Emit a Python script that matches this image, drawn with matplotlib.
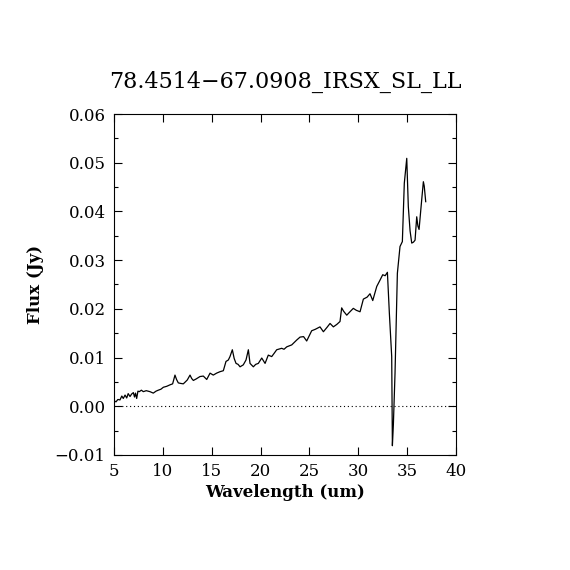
import matplotlib
matplotlib.use('Agg')
import matplotlib.pyplot as plt
from matplotlib.ticker import MultipleLocator

wave = [5.05, 5.2, 5.4, 5.61, 5.8, 5.95, 6.13, 6.3, 6.45, 6.64, 6.8, 6.98, 7.1, 7.2,
        7.32, 7.45, 7.59, 7.8, 8.0, 8.3, 8.68, 9.02, 9.3, 9.53, 9.8, 10.05, 10.4,
        10.73, 11.0, 11.24, 11.4, 11.58, 11.8, 12.09, 12.3, 12.5, 12.78, 12.95,
        13.12, 13.4, 13.8, 14.14, 14.49, 14.83, 15.16, 15.5, 15.85, 16.19, 16.46,
        16.7, 16.87, 17.11, 17.3, 17.49, 17.7, 17.9, 18.23, 18.51, 18.75, 18.92,
        19.26, 19.5, 19.77, 20.12, 20.46, 20.79, 21.14, 21.4, 21.65, 22.16, 22.4,
        22.68, 23.19, 23.7, 24.04, 24.4, 24.72, 25.23, 25.6, 26.08, 26.43, 26.8,
        27.11, 27.45, 27.8, 28.13, 28.3, 28.5, 28.82, 29.1, 29.49, 29.8, 30.18,
        30.52, 30.9, 31.2, 31.48, 31.89, 32.2, 32.5, 32.75, 32.98, 33.18, 33.42,
        33.49, 33.59, 33.76, 34.0, 34.27, 34.51, 34.71, 34.96, 35.12, 35.3, 35.47,
        35.65, 35.81, 35.98, 36.1, 36.22, 36.49, 36.66, 36.75, 36.9]
flux = [0.0011, 0.0009, 0.0014, 0.0013, 0.0021, 0.0016, 0.0023, 0.0017, 0.0026,
        0.0020, 0.0025, 0.0028, 0.0019, 0.0027, 0.0016, 0.0031, 0.0030, 0.0033,
        0.0030, 0.0032, 0.0030, 0.0027, 0.0031, 0.0033, 0.0035, 0.0039, 0.0041,
        0.0044, 0.0046, 0.0064, 0.0055, 0.0048, 0.0047, 0.0046, 0.0050, 0.0054,
        0.0064, 0.0057, 0.0053, 0.0056, 0.0061, 0.0062, 0.0055, 0.0068, 0.0064,
        0.0068, 0.0071, 0.0073, 0.0092, 0.0095, 0.0102, 0.0116, 0.0098, 0.0088,
        0.0086, 0.0081, 0.0085, 0.0095, 0.0116, 0.0088, 0.0081, 0.0086, 0.0088,
        0.0099, 0.0088, 0.0105, 0.0102, 0.0109, 0.0116, 0.0119, 0.0117, 0.0122,
        0.0126, 0.0136, 0.0142, 0.0143, 0.0134, 0.0155, 0.0158, 0.0163, 0.0153,
        0.0162, 0.0170, 0.0163, 0.0168, 0.0174, 0.0202, 0.0195, 0.0187, 0.0193,
        0.0201, 0.0197, 0.0194, 0.0220, 0.0224, 0.0231, 0.0217, 0.0246, 0.0258,
        0.0270, 0.0268, 0.0275, 0.0191, 0.0102, -0.0081, -0.0038, 0.0068, 0.0273,
        0.0328, 0.0338, 0.0458, 0.0509, 0.0410, 0.0360, 0.0335, 0.0337, 0.0341,
        0.0389, 0.0370, 0.0363, 0.0424, 0.0461, 0.0452, 0.0420]
yticks = [-0.01, 0, 0.01, 0.02, 0.03, 0.04, 0.05, 0.06]
ylabels = ['\u22120.01', '0.00', '0.01', '0.02', '0.03', '0.04', '0.05', '0.06']

plt.rcParams['font.family'] = ['DejaVu Serif']

fig = plt.figure(figsize=(5.7, 5.7), dpi=100)
ax = fig.add_axes([0.2, 0.2018, 0.6, 0.5982])

ax.plot(wave, flux, color='black', linewidth=0.9)
ax.axhline(0, color='black', linestyle=(0, (1, 2.5)), linewidth=0.8)

ax.set_xlim(5, 40)
ax.set_ylim(-0.01, 0.06)
ax.xaxis.set_major_locator(MultipleLocator(5))
ax.set_yticks(yticks)
ax.set_yticklabels(ylabels)
ax.yaxis.set_minor_locator(MultipleLocator(0.005))
ax.tick_params(which='both', direction='in', top=True, right=True, labelsize=12, pad=6)
ax.tick_params(which='major', length=6, width=0.8)
ax.tick_params(which='minor', length=3, width=0.8)
for s in ax.spines.values():
    s.set_linewidth(0.8)

ax.set_xlabel('Wavelength (um)', fontsize=12, fontweight='bold', labelpad=3)
ax.set_ylabel('Flux (Jy)', fontsize=12, fontweight='bold', labelpad=8)
ax.set_title('78.4514\u221267.0908_IRSX_SL_LL', fontsize=16, pad=19)

fig.savefig('out.png', dpi=100)
